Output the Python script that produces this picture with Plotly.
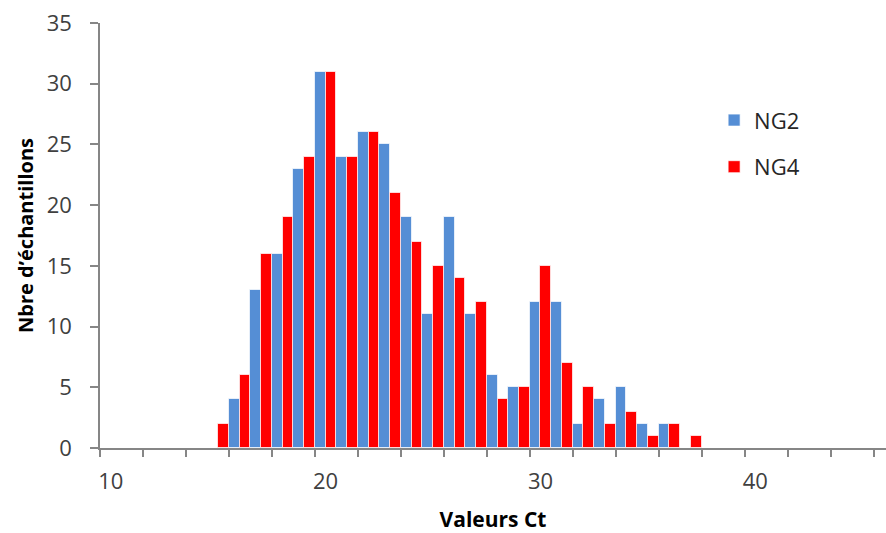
import plotly.graph_objects as go

# Ct value bins (one bin per integer Ct)
ct_values = list(range(15, 38))
ng2_counts = [0, 4, 13, 16, 23, 31, 24, 26, 25, 19, 11, 19, 11, 6, 5, 12, 12, 2, 4, 5, 2, 2, 0]
ng4_counts = [2, 6, 16, 19, 24, 31, 24, 26, 21, 17, 15, 14, 12, 4, 5, 15, 7, 5, 2, 3, 1, 2, 1]

x_tick_values = [10, 20, 30, 40]
x_tick_labels = ["10", "20", "30", "40"]
y_tick_values = [0, 5, 10, 15, 20, 25, 30, 35]

W, H = 886, 533
M_L, M_R, M_T, M_B = 99.5, 0, 22.7, 85.3
plot_w = W - M_L - M_R
plot_h = H - M_T - M_B
px_per_bin = 21.5
x_lo = 9.5
x_hi = x_lo + plot_w / px_per_bin

font_family = "Open Sans, Noto Sans, sans-serif"
axis_grey = "#868686"

fig = go.Figure()
fig.add_trace(go.Bar(
    x=ct_values, y=ng2_counts, name="NG2",
    marker=dict(color="#558ED5", line=dict(color="rgba(255,255,255,0.7)", width=1)),
    legendgroup="a",
))
fig.add_trace(go.Bar(
    x=ct_values, y=ng4_counts, name="NG4",
    marker=dict(color="#FF0000", line=dict(color="rgba(255,255,255,0.7)", width=1)),
    legendgroup="b",
))

fig.update_layout(
    width=W, height=H,
    margin=dict(l=M_L, r=M_R, t=M_T, b=M_B, pad=0),
    paper_bgcolor="white", plot_bgcolor="white",
    barmode="group", bargap=0, bargroupgap=0,
    font=dict(family=font_family, color="#404040"),
    showlegend=True,
    legend=dict(
        x=(714 - M_L) / plot_w, y=(H - M_B - 99) / plot_h,
        xref="paper", yref="paper",
        xanchor="left", yanchor="top",
        bgcolor="rgba(0,0,0,0)",
        font=dict(size=22, color="#262626", family=font_family),
        traceorder="grouped", tracegroupgap=15,
        itemwidth=30,
    ),
    xaxis=dict(
        range=[x_lo, x_hi],
        showgrid=False, zeroline=False,
        showline=True, linecolor=axis_grey, linewidth=1.5,
        tickmode="array", tickvals=x_tick_values, ticktext=x_tick_labels,
        ticks="", ticklabelstandoff=13,
        tickfont=dict(size=22, color="#404040"),
        minor=dict(tickmode="linear", tick0=9.5, dtick=2, ticks="outside",
                   ticklen=7, tickcolor=axis_grey, tickwidth=1.5, showgrid=False),
        title=dict(text="<b>Valeurs Ct</b>", standoff=20,
                   font=dict(size=21, color="#000000", family=font_family)),
        fixedrange=True,
    ),
    yaxis=dict(
        range=[0, 35],
        showgrid=False, zeroline=False,
        showline=True, linecolor=axis_grey, linewidth=1.5,
        tickmode="array", tickvals=y_tick_values,
        ticks="outside", ticklen=8, tickcolor=axis_grey, tickwidth=1.5,
        ticklabelstandoff=14,
        tickfont=dict(size=22, color="#404040"),
        title=dict(text="<b>Nbre d’échantillons</b>", standoff=8,
                   font=dict(size=20, color="#000000", family=font_family)),
        fixedrange=True,
    ),
)

fig.write_html("out.html")
